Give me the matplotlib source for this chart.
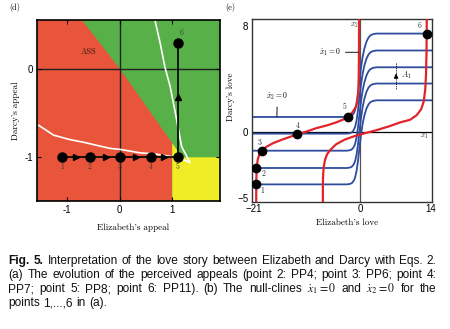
import numpy as np
import matplotlib
matplotlib.use("Agg")
import matplotlib.pyplot as plt

# ---------------- data: panel (d) ----------------
d_xlim = (-1.57, 1.91)
d_ylim = (-1.49, 0.55)
d_xticks = [-1, 0, 1]
d_xticklabels = ["-1", "0", "1"]
d_yticks = [-1, 0]
d_yticklabels = ["-1", "0"]
# diagonal boundary of the ASS (red) region
diag_x = [-0.72, 0.0, 1.0, 1.19]
diag_y = [0.55, 0.0, -0.84, -1.0]
ass_xmax = 1.0
yellow_ymax = -1.0
# white curve (lower branch then upper branch)
white_x = [-1.54, -1.26, -0.95, -0.69, -0.40, -0.18, 0.0, 0.20, 0.39, 0.64, 0.96, 1.15, 1.34,
           1.26, 1.18, 1.12, 1.05, 0.96, 0.86, 0.77, 0.67]
white_y = [-0.64, -0.75, -0.80, -0.83, -0.87, -0.90, -0.91, -0.93, -0.95, -0.96, -0.99, -1.01, -1.06,
           -0.97, -0.88, -0.69, -0.47, -0.20, 0.02, 0.29, 0.55]
# trajectory of perceived appeals, points 1..6
path_x = [-1.10, -0.57, 0.0, 0.59, 1.11, 1.11]
path_y = [-1.0, -1.0, -1.0, -1.0, -1.0, 0.29]
path_labels = ["1", "2", "3", "4", "5", "6"]
harrow_x = [-0.83, -0.27, 0.31, 0.84]
varrow_y = [-0.32]

# ---------------- data: panel (e) ----------------
e_xlim = (-21.5, 14.4)
e_ylim = (-5.3, 8.5)
e_xticks = [-21, 0, 14]
e_xticklabels = ["\u221221", "0", "14"]
e_yticks = [-5, 0, 8]
e_yticklabels = ["\u22125", "0", "8"]
# x2-nullclines: left / right plateau levels
blue_left = [1.11, -0.15, -1.44, -2.75, -3.99]
blue_right = [7.42, 6.14, 4.87, 3.64, 2.37]
# transition profile (x, fraction of the step)
prof_x = [-21.5, -2.6, -2.0, -1.6, -1.25, -0.95, -0.65, -0.35, -0.05, 0.25, 0.55, 0.9, 1.3, 1.7, 2.1, 2.6, 3.3, 14.4]
prof_f = [0.0, 0.0, 0.005, 0.015, 0.04, 0.08, 0.16, 0.29, 0.45, 0.6, 0.72, 0.82, 0.9, 0.95, 0.978, 0.993, 1.0, 1.0]
# x1-nullclines (red)
redA_x = [-20.6, -20.6, -20.55, -20.45, -20.3, -20.0, -19.5, -18.6, -17.3, -15.3, -12.4, -10.5, -8.7,
          -6.5, -4.7, -3.4, -2.4, -1.5, -0.75, -0.45, -0.3, -0.22, -0.18, -0.15]
redA_y = [-5.4, -4.0, -3.2, -2.6, -2.1, -1.75, -1.46, -1.15, -0.88, -0.58, -0.2, 0.02, 0.26,
          0.48, 0.7, 0.9, 1.12, 1.45, 1.9, 2.5, 3.2, 4.2, 6.0, 8.6]
redB_x = [-7.35, -7.35, -7.3, -7.15, -6.9, -6.5, -5.8, -4.7, -3.0, -1.0, 1.0, 3.0, 5.8, 8.0,
          10.0, 11.3, 12.2, 12.7, 13.0, 13.15, 13.25, 13.3]
redB_y = [-5.4, -4.0, -3.2, -2.6, -2.1, -1.7, -1.35, -0.95, -0.6, -0.33, -0.12, 0.08, 0.4, 0.7,
          0.9, 1.25, 1.7, 2.3, 3.2, 4.3, 6.0, 8.6]
pts_x = [-20.55, -20.55, -19.5, -12.4, -2.4, 13.3]
pts_y = [-3.99, -2.75, -1.46, -0.17, 1.11, 7.42]
pts_labels = ["1", "2", "3", "4", "5", "6"]

caption_lines = [
    [("Fig.", "bold"), ("5.", "bold"), ("Interpretation", "normal"), ("of", "normal"), ("the", "normal"),
     ("love", "normal"), ("story", "normal"), ("between", "normal"), ("Elizabeth", "normal"), ("and", "normal"),
     ("Darcy", "normal"), ("with", "normal"), ("Eqs.", "normal"), ("2.", "normal")],
    [(w, "normal") for w in "(a) The evolution of the perceived appeals (point 2: PP4; point 3: PP6; point 4:".split()],
    [(w, "normal") for w in "PP7; point 5: PP8; point 6: PP11). (b) The null-clines".split()]
    + [(r"$\dot{x}_1=0$", "normal"), ("and", "normal"), (r"$\dot{x}_2=0$", "normal"), ("for", "normal"), ("the", "normal")],
    [(w, "normal") for w in "points 1,...,6 in (a).".split()],
]

# ---------------- styling ----------------
W, H = 450, 329
C_RED = "#E8553B"
C_GREEN = "#58B048"
C_YELLOW = "#F0EC26"
C_BLUE = "#2E4C9E"
C_RLINE = "#E2242A"
SERIF = "cmr10"
SANS = "Liberation Sans"

fig = plt.figure(figsize=(W / 100, H / 100), dpi=100)
fig.patch.set_facecolor("white")

# ================= panel (d) =================
axd = fig.add_axes([37.3 / W, 1 - 200.7 / H, (220 - 37.3) / W, (200.7 - 20) / H])
axd.set_xlim(d_xlim)
axd.set_ylim(d_ylim)
axd.set_facecolor(C_GREEN)
x0, x1 = d_xlim
y0, y1 = d_ylim
red_poly = [(x0, y0), (ass_xmax, y0)]
red_poly += [(a, b) for a, b in zip(diag_x, diag_y) if a <= ass_xmax][::-1]
red_poly += [(x0, y1)]
axd.fill(*zip(*red_poly), color=C_RED, lw=0, zorder=0.5)
yel_poly = [(ass_xmax, y0), (x1, y0), (x1, yellow_ymax)]
yel_poly += [(a, b) for a, b in zip(diag_x, diag_y) if a >= ass_xmax][::-1]
axd.fill(*zip(*yel_poly), color=C_YELLOW, lw=0, zorder=0.5)

axd.axhline(0, color="#202020", lw=1.0, zorder=1)
axd.axvline(0, color="#202020", lw=1.0, zorder=1)
axd.plot(white_x, white_y, color="white", lw=1.2, zorder=2)
axd.plot(path_x, path_y, color="black", lw=1.2, marker="o", ms=6.5, zorder=3)
axd.plot(harrow_x, [path_y[0]] * len(harrow_x), ls="none", marker=">", ms=4.5, color="black", zorder=4)
axd.plot([path_x[-1]] * len(varrow_y), varrow_y, ls="none", marker="^", ms=4.5, color="black", zorder=4)
for i, (px, py, lab) in enumerate(zip(path_x, path_y, path_labels)):
    if i < 5:
        axd.text(px, py - 0.11, lab, family=SERIF, fontsize=5.5, color="#3a3a3a", ha="center", va="center")
    else:
        axd.text(px + 0.07, py + 0.11, lab, family=SERIF, fontsize=5.5, color="#3a3a3a", ha="center", va="center")
axd.text(-0.6, 0.19, "ASS", family=SERIF, fontsize=6, color="#3a1a12", ha="center", va="center")

axd.set_xticks(d_xticks)
axd.set_xticklabels(d_xticklabels)
axd.set_yticks(d_yticks)
axd.set_yticklabels(d_yticklabels)
axd.tick_params(direction="in", length=3, width=0.8, top=True, right=True, labelsize=7, pad=3)
for lab in axd.get_xticklabels() + axd.get_yticklabels():
    lab.set_family(SANS)
for sp in axd.spines.values():
    sp.set_linewidth(1.2)
    sp.set_color("black")
axd.set_xlabel("Elizabeth's appeal", family=SERIF, fontsize=6.5)
axd.set_ylabel("Darcy's appeal", family=SERIF, fontsize=6.5)
axd.xaxis.set_label_coords(0.524, -0.129)
axd.yaxis.set_label_coords(-0.095, 0.50)

# ================= panel (e) =================
axe = fig.add_axes([251.7 / W, 1 - 201.7 / H, (432.3 - 251.7) / W, (201.7 - 19.3) / H])
axe.set_xlim(e_xlim)
axe.set_ylim(e_ylim)
axe.axhline(0, color="black", lw=0.9, zorder=1)
axe.axvline(0, color="#555555", lw=0.9, zorder=1)
pf = np.array(prof_f)
for L, R in zip(blue_left, blue_right):
    axe.plot(prof_x, L + (R - L) * pf, color=C_BLUE, lw=1.3, zorder=2)
axe.plot(redA_x, redA_y, color=C_RLINE, lw=1.6, zorder=3)
axe.plot(redB_x, redB_y, color=C_RLINE, lw=1.6, zorder=3)
axe.plot(pts_x, pts_y, ls="none", marker="o", ms=6, color="black", zorder=5)
lab_off = [(1.2, -0.45), (1.3, -0.45), (-0.4, 0.65), (0.0, 0.62), (-0.7, 0.75), (-1.5, 0.6)]
for (px, py, lab), (dx, dy) in zip(zip(pts_x, pts_y, pts_labels), lab_off):
    axe.text(px + dx, py + dy, lab, family=SERIF, fontsize=5.5, color="#2a2a2a", ha="center", va="center")

axe.text(-1.1, 8.05, r"$x_2$", math_fontfamily="cm", fontsize=5.5, color="#333333", ha="center", va="center")
axe.text(12.9, -0.38, r"$x_1$", math_fontfamily="cm", fontsize=5.5, color="#333333", ha="center", va="center")
axe.annotate(r"$\dot{x}_1=0$", xy=(-0.2, 6.0), xytext=(-6.0, 6.0), math_fontfamily="cm",
             fontsize=5.5, ha="center", va="center",
             arrowprops=dict(arrowstyle="-", lw=0.8, color="#333333", shrinkA=1.5, shrinkB=0))
axe.annotate(r"$\dot{x}_2=0$", xy=(-16.5, 1.11), xytext=(-16.4, 2.65), math_fontfamily="cm",
             fontsize=5.5, ha="center", va="center",
             arrowprops=dict(arrowstyle="-", lw=0.8, color="#333333", shrinkA=1.5, shrinkB=0))
axe.plot([7.2, 7.2], [3.2, 5.2], color="black", lw=0.6, ls=(0, (1.5, 1.2)), zorder=4)
axe.annotate("", xy=(7.2, 4.6), xytext=(7.2, 4.0),
             arrowprops=dict(arrowstyle="-|>", color="black", lw=0.8, mutation_scale=6))
axe.text(8.1, 4.25, r"$A_1$", math_fontfamily="cm", fontsize=6, color="#222222", ha="left", va="center")

axe.set_xticks(e_xticks)
axe.set_xticklabels(e_xticklabels)
axe.set_yticks(e_yticks)
axe.set_yticklabels(e_yticklabels)
axe.tick_params(length=0, labelsize=7, pad=2.5)
axe.tick_params(axis="x", pad=1.5)
for lab in axe.get_xticklabels() + axe.get_yticklabels():
    lab.set_family(SANS)
for sp in axe.spines.values():
    sp.set_linewidth(1.0)
    sp.set_color("#333333")
axe.set_xlabel("Elizabeth's love", family=SERIF, fontsize=6.5)
axe.set_ylabel("Darcy's love", family=SERIF, fontsize=6.5)
axe.xaxis.set_label_coords(0.526, -0.095)
axe.yaxis.set_label_coords(-0.092, 0.574)

fig.text(15 / W, 1 - 8 / H, "(d)", family=SERIF, fontsize=6, ha="center", va="center")
fig.text(230 / W, 1 - 7 / H, "(e)", family=SERIF, fontsize=6, ha="center", va="center")

# ================= caption (justified) =================
fig.canvas.draw()
renderer = fig.canvas.get_renderer()
CAP_FS = 8.6
baselines = [264.0, 277.7, 292.0, 306.0]
X0, X1 = 8.3, 436.7
space_px = 0.278 * CAP_FS * 100 / 72
for li, (items, yb) in enumerate(zip(caption_lines, baselines)):
    texts = []
    for s, wgt in items:
        t = fig.text(0, 1 - yb / H, s, family=SANS, fontsize=CAP_FS, fontweight=wgt,
                     math_fontfamily="stix", ha="left", va="baseline", color="#111111")
        texts.append(t)
    widths = [t.get_window_extent(renderer).width for t in texts]
    justify = li < len(caption_lines) - 1
    gap = (X1 - X0 - sum(widths)) / (len(texts) - 1) if justify else space_px
    x = X0
    for t, w in zip(texts, widths):
        t.set_x(x / W)
        x += w + gap

fig.savefig("out.png", dpi=100)
